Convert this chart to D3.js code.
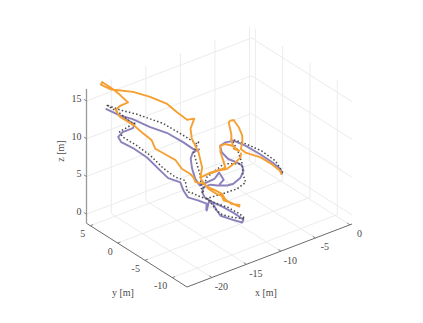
<!DOCTYPE html>
<html>
<head>
<meta charset="utf-8">
<script src="https://cdn.jsdelivr.net/npm/d3@7"></script>
<style>
  html, body { margin: 0; padding: 0; background: #fff; }
  svg { display: block; }
  text { font-family: "Liberation Serif", serif; font-size: 10px; fill: #4a4a4a; }
</style>
</head>
<body>
<svg id="chart" width="423" height="323"></svg>
<script>
// axis limits and ticks
const xLim = [-23.6, 0.3]
const yLim = [-12.7, 5.7]
const zLim = [-1.2, 16.6]
const xTicks = [-20, -15, -10, -5, 0]
const yTicks = [-10, -5, 0, 5]
const zTicks = [0, 5, 10, 15]

// orange track
const orangeX = [-5.7,-5.3,-5.1,-6.2,-6.9,-7.9,-7.9,-8.0,-8.2,-8.7,-9.1,-9.5,-9.2,-8.8,-8.6,-8.5,-8.3,-8.2,-8.6,-9.3,-9.1,-9.0,-8.7,-9.2,-9.7,-11.3,-11.6,-11.1,-11.1,-10.9,-10.3,-10.0,-9.8,-9.5,-10.1,-10.0,-10.6,-10.7,-10.9,-11.9,-12.4,-11.9,-11.7,-12.8,-13.2,-13.3,-14.5,-14.7,-16.6,-17.4,-19.6,-20.1,-19.2,-17.9,-19.7,-20.6,-21.1,-21.6,-20.8,-17.0,-15.1,-13.5,-12.7,-11.8,-11.0,-11.7,-11.9,-11.1,-10.8,-11.3,-10.1,-8.7,-7.7,-7.4,-7.0,-7.3]
const orangeY = [-7.4,-6.6,-4.9,-4.2,-2.3,-2.7,-3.0,-3.1,-2.7,-2.4,-2.3,-2.5,-2.4,-2.1,-1.9,-2.2,-2.9,-1.5,-0.7,-0.7,-0.5,-0.9,-0.9,-0.9,0.6,0.4,-0.3,-0.8,-2.3,-3.0,-2.6,-3.4,-4.8,-4.5,-3.8,-2.5,-2.7,-1.6,-0.6,-0.9,-0.1,0.9,1.8,1.9,2.6,4.0,4.6,5.0,4.5,4.9,4.6,4.8,5.2,5.3,4.5,4.6,6.0,5.6,4.7,5.5,4.8,3.8,2.9,2.2,1.9,1.7,1.2,1.0,0.7,0.4,0.5,0.4,0.1,-0.8,-1.5,-2.0]
const orangeZ = [5,5,5,6,6,7,8,9,10,11,11,11,10,9,8,7,7,7,7,7,6,5,4,4,3,3,3,2,2,2,1,1,1,1,1,1,2,2,2,3,3,3,3,4,5,5,6,7,9,10,12,13,13,13,15,16,16.5,16.5,16,14,13,12,11,10,10,9,8,6,4,3,3,3,3,4,5,6]

// purple track
const purpleX = [-5.6,-5.0,-4.8,-5.8,-7.0,-8.4,-9.4,-9.3,-9.0,-8.3,-8.0,-6.9,-7.5,-7.7,-9.2,-10.0,-10.9,-11.4,-11.4,-12.2,-11.6,-11.6,-11.3,-10.1,-10.2,-10.7,-11.2,-11.7,-11.3,-11.6,-11.9,-12.2,-12.1,-12.3,-12.6,-13.1,-13.6,-13.8,-14.3,-15.1,-16.5,-17.5,-18.8,-19.4,-19.4,-17.9,-17.2,-18.3,-19.5,-20.8,-19.4,-17.7,-16.2,-14.4,-13.2,-12.2,-11.7,-12.7,-12.7,-12.9,-13.0,-12.5,-10.2,-8.9,-9.5,-10.6]
const purpleY = [-7.4,-6.3,-4.6,-3.6,-2.4,-2.1,-1.8,-0.7,-0.6,-0.9,-2.1,-1.7,-2.7,-2.4,-3.0,-2.9,-2.2,-1.6,-0.2,-1.1,-0.8,-1.8,-3.8,-4.4,-6.1,-6.5,-5.3,-3.8,-2.6,-2.1,-1.9,-1.9,-1.7,-2.0,-0.9,0.4,0.6,0.9,2.5,2.6,3.6,4.9,5.4,5.2,4.4,4.4,5.0,4.8,5.3,5.6,4.9,4.7,3.4,2.4,1.1,0.2,0.1,0.0,0.4,-0.1,-0.8,-1.0,-0.8,0.0,-1.6,-2.2]
const purpleZ = [5,5,5,6,7,8,8,7,6,5,5,4,4,3,3,3,3,3,2,2,1,1,1,0,0,0,0,0,0,1,1,0,0,1,1,1,2,3,3,4,6,7,8,9,10,10,10,11,12,13,12,11,10,9,8,7,7,7,6,5,4,3,3,3,3,3]

// dotted track
const dottedX = [-5.3,-4.3,-5.2,-6.7,-8.4,-8.4,-7.7,-8.0,-7.9,-8.5,-10.5,-11.5,-11.5,-10.9,-9.7,-9.9,-10.8,-11.4,-11.3,-11.6,-12.0,-13.2,-13.5,-13.1,-13.5,-14.4,-15.9,-16.8,-19.0,-19.6,-17.0,-17.3,-19.1,-21.3,-19.7,-17.7,-14.5,-13.3,-12.2,-11.8,-12.6,-11.8,-12.1,-11.7,-12.3,-11.8,-10.7,-9.0,-8.3,-7.4,-7.7]
const dottedY = [-7.1,-4.5,-3.1,-2.1,-1.6,-2.8,-2.7,-3.2,-3.6,-2.8,-2.7,-1.1,-2.2,-4.2,-4.8,-6.0,-5.0,-3.7,-2.6,-1.4,0.1,-0.2,0.0,0.9,2.2,3.3,3.8,5.2,4.9,4.7,5.2,5.1,5.3,5.0,4.5,3.9,3.2,1.6,-0.1,0.1,0.0,0.4,-0.6,-0.3,-1.3,-1.0,0.0,0.6,-0.1,-0.8,-2.7]
const dottedZ = [5,5,6,7,8,7,5,4,3,2,2,1,1,1,0,0,0,0,0,1,1,2,2,3,3,4,6,7,9,10,10,10,12,14,13,12,10,9,8,8,7,5,4,2,2,3,3,3,4,4,5]

const svg = d3.select('#chart')

const xScale = d3.scaleLinear().domain(xLim).range([0, 1])
const yScale = d3.scaleLinear().domain(yLim).range([0, 1])
const zScale = d3.scaleLinear().domain(zLim).range([0, 1])

// box corner nearest the viewer and the on-screen length of each axis
const origin = [187, 287]
const xSpan = [165, -63]
const ySpan = [-100.5, -63.7]
const zSpan = [0, -134.4]

const project = (x, y, z) => {
    const a = xScale(x), b = yScale(y), c = zScale(z)
    return [
        origin[0] + a * xSpan[0] + b * ySpan[0] + c * zSpan[0],
        origin[1] + a * xSpan[1] + b * ySpan[1] + c * zSpan[1]
    ]
}

const segment = (g, p, q, color, width) => {
    g.append('line')
        .attr('x1', p[0]).attr('y1', p[1])
        .attr('x2', q[0]).attr('y2', q[1])
        .attr('stroke', color)
        .attr('stroke-width', width)
}

const addGrid = () => {
    const g = svg.append('g')
    const color = '#ececec'
    xTicks.forEach(t => {
        segment(g, project(t, yLim[0], zLim[0]), project(t, yLim[1], zLim[0]), color, 1)
        segment(g, project(t, yLim[1], zLim[0]), project(t, yLim[1], zLim[1]), color, 1)
    })
    yTicks.forEach(t => {
        segment(g, project(xLim[0], t, zLim[0]), project(xLim[1], t, zLim[0]), color, 1)
        segment(g, project(xLim[1], t, zLim[0]), project(xLim[1], t, zLim[1]), color, 1)
    })
    zTicks.forEach(t => {
        segment(g, project(xLim[0], yLim[1], t), project(xLim[1], yLim[1], t), color, 1)
        segment(g, project(xLim[1], yLim[1], t), project(xLim[1], yLim[0], t), color, 1)
    })
}

const addAxes = () => {
    const g = svg.append('g')
    const color = '#6b6b6b'
    segment(g, project(xLim[0], yLim[1], zLim[0]), project(xLim[0], yLim[0], zLim[0]), color, 1)
    segment(g, project(xLim[0], yLim[0], zLim[0]), project(xLim[1], yLim[0], zLim[0]), color, 1)
    segment(g, project(xLim[0], yLim[1], zLim[0]), project(xLim[0], yLim[1], zLim[1]), '#999', 1.3)

    xTicks.forEach(t => {
        const p = project(t, yLim[0], zLim[0])
        segment(g, p, [p[0] - 2.6, p[1] - 1.7], color, 0.8)
        g.append('text').text(t).attr('text-anchor', 'middle')
            .attr('x', p[0] + 9.5).attr('y', p[1] + 12.5)
    })
    yTicks.forEach(t => {
        const p = project(xLim[0], t, zLim[0])
        segment(g, p, [p[0] + 2.8, p[1] - 1.1], color, 0.8)
        g.append('text').text(t).attr('text-anchor', 'end')
            .attr('x', p[0] - 5).attr('y', p[1] + 11.5)
    })
    zTicks.forEach(t => {
        const p = project(xLim[0], yLim[1], t)
        segment(g, p, [p[0] - 2.6, p[1] - 1.7], color, 0.8)
        g.append('text').text(t).attr('text-anchor', 'end')
            .attr('x', p[0] - 5).attr('y', p[1] + 1)
    })

    g.append('text').text('x [m]').attr('text-anchor', 'middle').attr('x', 266).attr('y', 296)
    g.append('text').text('y [m]').attr('text-anchor', 'middle').attr('x', 123).attr('y', 296)
    g.append('text').text('z [m]').attr('text-anchor', 'middle')
        .attr('transform', 'translate(64,151) rotate(-90)')
}

const addTrack = (xs, ys, zs, color, width, dash) => {
    const line = d3.line()
        .x(d => project(d[0], d[1], d[2])[0])
        .y(d => project(d[0], d[1], d[2])[1])
    svg.append('path')
        .datum(d3.zip(xs, ys, zs))
        .attr('d', line)
        .attr('fill', 'none')
        .attr('stroke', color)
        .attr('stroke-width', width)
        .attr('stroke-linejoin', 'round')
        .attr('stroke-dasharray', dash)
}

addGrid()
addAxes()
addTrack(purpleX, purpleY, purpleZ, '#8c80bd', 1.9, null)
addTrack(dottedX, dottedY, dottedZ, '#484848', 1.5, '1.5,2.2')
addTrack(orangeX, orangeY, orangeZ, '#f6a033', 1.9, null)
</script>
</body>
</html>
